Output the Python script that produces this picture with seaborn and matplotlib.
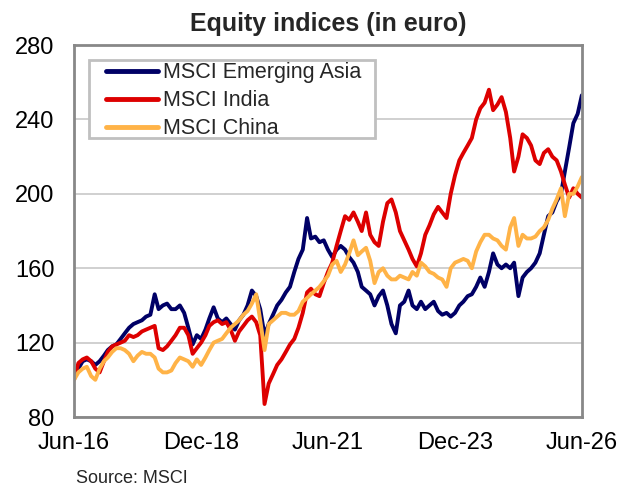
import numpy as np
import pandas as pd
import matplotlib
matplotlib.use('Agg')
import matplotlib.pyplot as plt
import matplotlib.dates as mdates
from matplotlib.patches import Rectangle
import seaborn as sns

# monthly readings, Jun-2016 .. Jun-2026 (index levels, in euro)
dates = pd.date_range('2016-06-30', periods=121, freq='ME')

em_asia = [103, 106, 110, 111, 110, 108, 110, 113, 116, 118, 119, 122,
           125, 128, 130, 131, 132, 134, 135, 146, 138, 140, 141, 138,
           138, 140, 136, 128, 119, 124, 122, 127, 133, 139, 133, 131,
           133, 130, 127, 132, 135, 140, 148, 145, 138, 124, 130, 135,
           140, 143, 147, 150, 158, 165, 170, 187, 176, 177, 174, 175,
           170, 166, 170, 172, 170, 166, 163, 158, 150, 148, 146, 140,
           145, 148, 140, 130, 125, 140, 142, 148, 140, 138, 142, 138,
           140, 142, 137, 135, 136, 134, 136, 140, 142, 145, 146, 150,
           155, 150, 158, 168, 162, 160, 162, 160, 163, 145, 155, 158,
           160, 163, 168, 178, 188, 190, 196, 200, 212, 225, 238, 243,
           253]

india = [100, 109, 111, 112, 110, 106, 104, 110, 115, 118, 119, 120,
         121, 124, 123, 124, 126, 127, 128, 129, 117, 116, 118, 121,
         124, 128, 128, 124, 114, 117, 120, 124, 129, 131, 132, 130,
         131, 127, 121, 126, 129, 132, 134, 131, 124, 87, 98, 103,
         108, 111, 115, 119, 122, 128, 136, 147, 149, 146, 145, 152,
         158, 163, 172, 180, 188, 186, 190, 185, 180, 190, 178, 174,
         172, 185, 195, 197, 190, 180, 175, 170, 165, 161, 168, 178,
         183, 189, 193, 190, 187, 200, 210, 218, 222, 226, 230, 240,
         246, 249, 256, 245, 248, 252, 244, 230, 212, 220, 232, 230,
         226, 218, 216, 222, 224, 220, 218, 212, 205, 198, 203, 200,
         198]

china = [100, 104, 106, 107, 102, 100, 106, 110, 112, 115, 117, 117,
         116, 114, 110, 113, 115, 114, 114, 112, 106, 104, 104, 105,
         109, 112, 111, 110, 107, 111, 108, 112, 116, 120, 121, 122,
         125, 128, 130, 132, 135, 137, 141, 146, 132, 116, 130, 132,
         134, 136, 136, 135, 135, 137, 142, 144, 146, 148, 150, 153,
         156, 162, 164, 158, 162, 168, 175, 167, 169, 171, 164, 152,
         158, 160, 156, 154, 154, 156, 155, 154, 158, 156, 163, 161,
         158, 157, 155, 154, 150, 160, 163, 164, 165, 164, 160, 169,
         174, 178, 178, 176, 175, 172, 170, 182, 187, 172, 178, 176,
         176, 177, 180, 182, 186, 192, 197, 203, 188, 200, 200, 204,
         209]

names = ['MSCI Emerging Asia', 'MSCI India', 'MSCI China']
colors = ['#000066', '#dd0000', '#ffb347']

df = pd.concat([
    pd.DataFrame({'date': dates, 'value': v, 'index': n})
    for n, v in zip(names, [em_asia, india, china])
])

sns.set_style('white')
plt.rcParams['font.family'] = ['Liberation Sans', 'DejaVu Sans']

fig = plt.figure(figsize=(6.17, 4.92), dpi=100)
ax = fig.add_axes([0.12, 0.1524, 0.823, 0.756])

sns.lineplot(data=df, x='date', y='value', hue='index', hue_order=names,
             palette=colors, linewidth=2.8, ax=ax, legend=False)

ax.set_xlim(pd.Timestamp('2016-06-30'), pd.Timestamp('2026-06-30'))
ax.set_ylim(80, 280)
ax.set_yticks([80, 120, 160, 200, 240, 280])
xt = pd.to_datetime(['2016-06-30', '2018-12-31', '2021-06-30', '2023-12-31', '2026-06-30'])
ax.set_xticks(xt)
ax.xaxis.set_major_formatter(mdates.DateFormatter('%b-%y'))
ax.set_xlabel('')
ax.set_ylabel('')

ax.grid(axis='y', color='#c8c8c8', linewidth=1.2)
ax.set_axisbelow(True)
for s in ax.spines.values():
    s.set_color('#888888')
    s.set_linewidth(2)
ax.tick_params(axis='both', direction='out', length=5, width=1.5, color='#888888',
               labelsize=17, colors='#888888', labelcolor='black')
ax.tick_params(axis='y', pad=9)
ax.tick_params(axis='x', pad=6)

ax.set_title('Equity indices (in euro)', fontsize=18, fontweight='bold', pad=10)

# legend box drawn separately so it can be wider than the entries
ax.add_patch(Rectangle((0.0295, 0.75), 0.563, 0.21, transform=ax.transAxes,
                       facecolor='white', edgecolor='#c0c0c0', linewidth=2, zorder=4))
handles = [plt.Line2D([], [], color=c, linewidth=3.5) for c in colors]
leg = ax.legend(handles, names, loc='upper left', bbox_to_anchor=(0.063, 0.954),
                fontsize=15.5, frameon=False, handlelength=2.42, handletextpad=0.23,
                labelspacing=0.33, borderpad=0, borderaxespad=0)
leg.set_zorder(5)

fig.text(0.123, 0.018, 'Source: MSCI', fontsize=13)

fig.savefig('out.png', dpi=100)
